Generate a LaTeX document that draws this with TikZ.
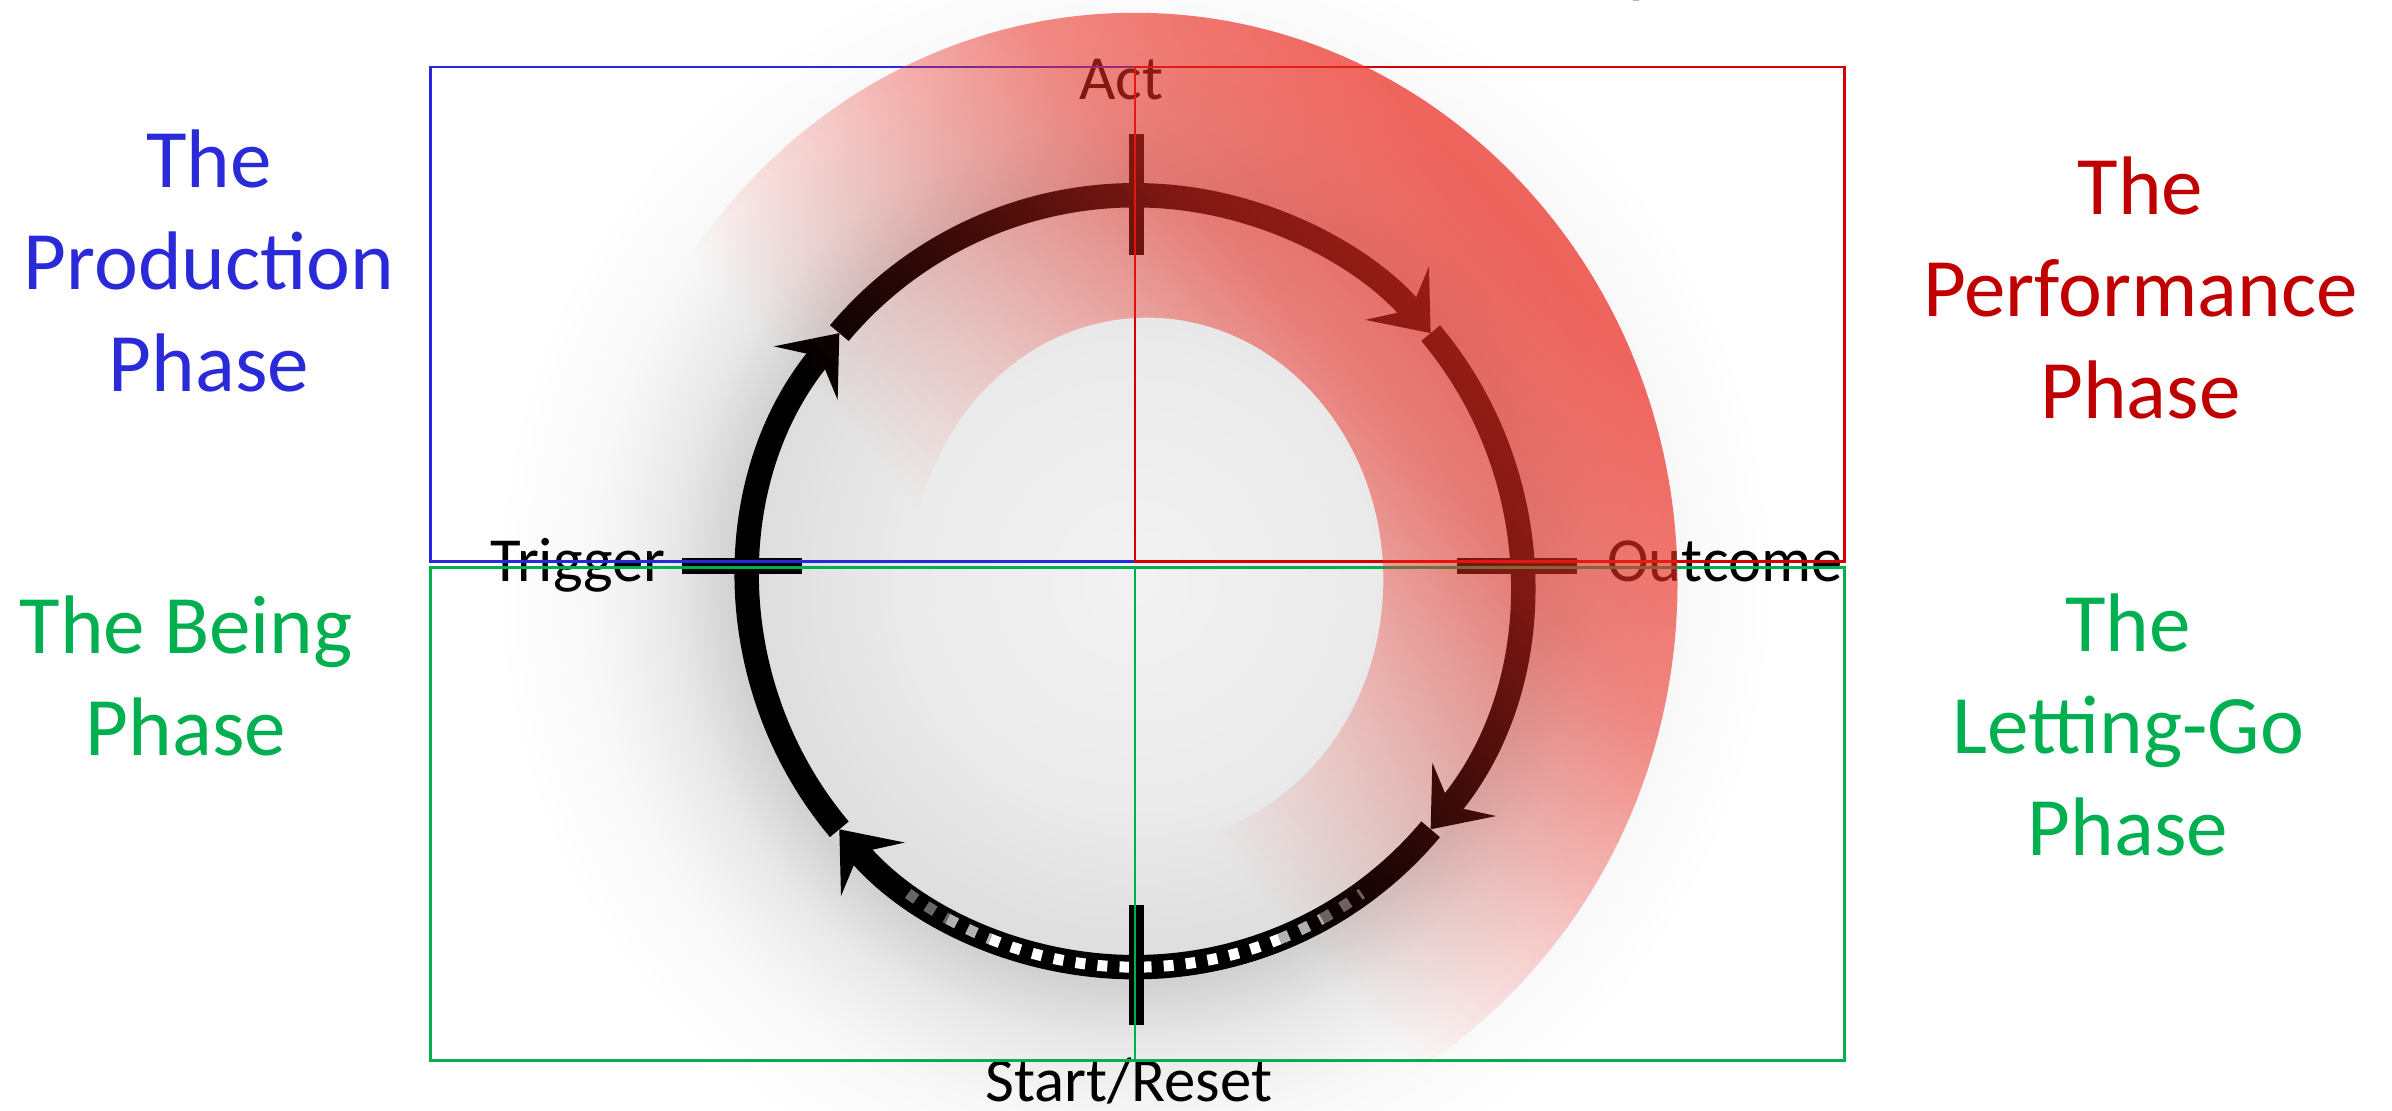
\documentclass[tikz,border=0pt]{standalone}
\usepackage{fontspec}
\setmainfont{Carlito}
\usetikzlibrary{arrows.meta,fadings}

\definecolor{prodblue}{RGB}{42,42,216}
\definecolor{perfred}{RGB}{192,0,0}
\definecolor{phasegreen}{RGB}{0,176,80}
\definecolor{boxblue}{RGB}{40,40,225}
\definecolor{boxred}{RGB}{215,0,0}
\definecolor{ringred}{RGB}{236,45,35}

% soft grey halo round the cycle
\pgfdeclareradialshading{glow}{\pgfpoint{0bp}{0bp}}{color(0bp)=(black!5); color(9bp)=(black!8); color(14.8bp)=(black!13); color(15.6bp)=(black!18); color(18bp)=(black!9); color(21bp)=(black!3); color(25bp)=(white); color(50bp)=(white)}
% red ring fades out towards the lower left
\pgfdeclarehorizontalshading{ringshade}{100bp}{color(0bp)=(black); color(47.4bp)=(black); color(51.5bp)=(black!78); color(54.6bp)=(black!58); color(56.5bp)=(black!45); color(61.6bp)=(black!28); color(100bp)=(black!28)}
\begin{tikzfadingfrompicture}[name=ringfade]
\shade[shading=ringshade] (-50bp,-50bp) rectangle (50bp,50bp);
\end{tikzfadingfrompicture}

\begin{document}
\begin{tikzpicture}[
  cyc/.style={line width=1.6mm, black},
  tick/.style={line width=1mm},
  dashstroke/.style={line width=0.72mm, dash pattern=on 0.65mm off 0.8mm},
  lbl/.style={font=\fontsize{11.7}{14}\selectfont, inner sep=0pt},
  phase/.style={font=\fontsize{15.5}{19}\selectfont, align=center, inner sep=0pt},
  quad/.style={line width=0.5pt},
  >={Stealth[length=3.4mm, width=5.4mm, inset=1.4mm]}
]
\useasboundingbox (-7.44,-3.47) rectangle (8.24,3.81);
\coordinate (o) at (0,0);
% shadow under the cycle
\shade[shading=glow] (o) circle (4.2);
% the cycle, clockwise
\foreach \a/\b in {270/220,220/140,140/40,40/-40}
  \draw[cyc,->] ([shift={(\a:2.53)}]o) arc[start angle=\a, end angle=\b, radius=2.53];
\draw[cyc] ([shift={(-40:2.53)}]o) arc[start angle=-40, end angle=-90, radius=2.53];
\foreach \a/\b/\c in {234/241/black!60,241/248/black!30,248/292/white,292/299/black!30,299/306/black!60}
  \draw[dashstroke,\c] ([shift={(\a:2.53)}]o) arc[start angle=\a, end angle=\b, radius=2.53];
% ticks
\draw[tick] (0.01,2.14) -- (0.01,2.93);
\draw[tick] (0.01,-2.12) -- (0.01,-2.91);
\draw[tick] (-2.97,0.10) -- (-2.18,0.10);
\draw[tick] (2.11,0.10) -- (2.90,0.10);
\node[lbl, anchor=base] (act) at (-0.09,3.16) {Act};
\node[lbl, anchor=base east] (trigger) at (-3.07,0) {Trigger};
\node[lbl, anchor=base west] (outcome) at (3.09,0) {Outcome};
\node[lbl, anchor=base] (start) at (-0.04,-3.41) {Start/Reset};
% quadrants
\draw[quad, boxblue] (-4.62,0.13) rectangle (0,3.37);
\draw[quad, boxred] (0,0.13) rectangle (4.65,3.37);
\draw[quad, phasegreen] (-4.62,-3.14) rectangle (0,0.09);
\draw[quad, phasegreen] (0,-3.14) rectangle (4.65,0.09);
% red ring on top
\fill[ringred, even odd rule, path fading=ringfade, fading angle=43] (o) ellipse [x radius=3.56, y radius=3.74] (0.08,0.02) ellipse [x radius=1.55, y radius=1.72];
\node[phase, text=prodblue] (production) at (-6.07,2.10) {The\\Production\\Phase};
\node[phase, text=perfred] (performance) at (6.59,1.92) {The\\Performance\\Phase};
\node[phase, text=phasegreen] (being) at (-6.22,-0.62) {The Being\\Phase};
\node[phase, text=phasegreen] (lettinggo) at (6.51,-0.94) {The\\Letting-Go\\Phase};
\node[phase, text=boxblue, anchor=base] (ytail) at (3.33,3.89) {y};
\end{tikzpicture}
\end{document}
